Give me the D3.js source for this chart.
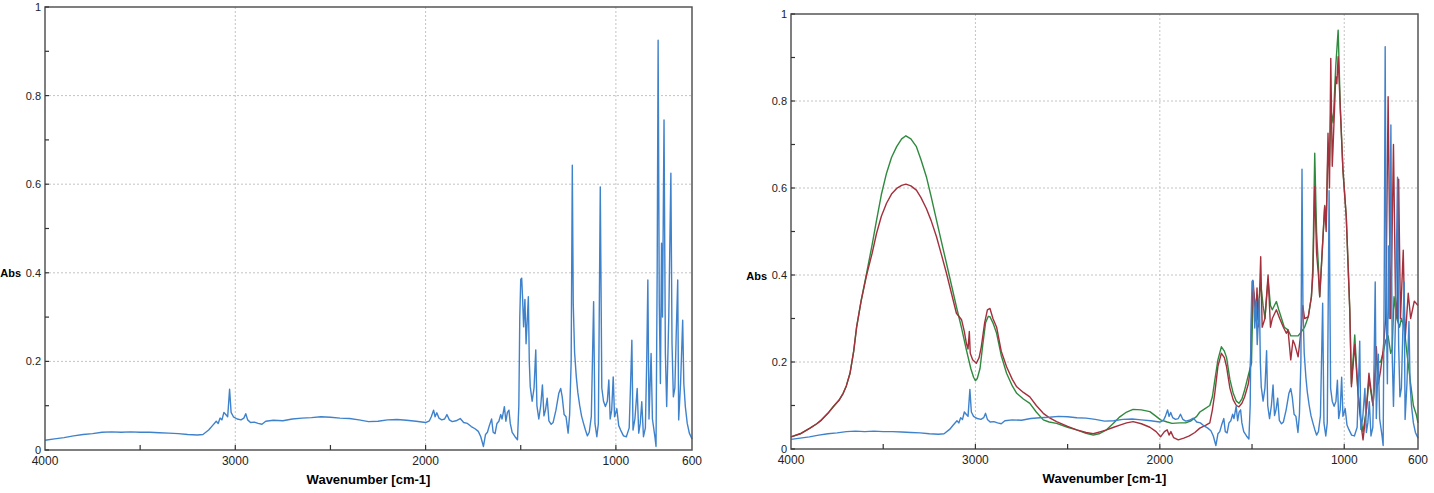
<!DOCTYPE html>
<html>
<head>
<meta charset="utf-8">
<script src="https://cdn.jsdelivr.net/npm/d3@7"></script>
<style>
  body { margin: 0; background: #fff; }
  svg { display: block; font-family: "Liberation Sans", Arial, sans-serif; }
</style>
</head>
<body>
<svg id="chart" width="1434" height="493"></svg>
<script>
// 1: DATA (wavenumber cm-1, absorbance)
const xTickValues = [4000, 3000, 2000, 1000, 600];
const xMinorValues = [3500, 2500, 1500];
const xGridValues = [3000, 2000, 1000];
const yTickValues = [0, 0.2, 0.4, 0.6, 0.8, 1];
const yTickLabels = ["0", "0.2", "0.4", "0.6", "0.8", "1"];
const yMinorValues = [0.1, 0.3, 0.5, 0.7, 0.9];

const blueSpec = [
  [4000,0.022],[3950,0.025],[3900,0.028],[3850,0.032],[3800,0.035],[3750,0.037],[3700,0.040],[3650,0.041],
  [3600,0.040],[3550,0.041],[3500,0.040],[3450,0.040],[3400,0.039],[3350,0.038],[3300,0.037],[3250,0.035],
  [3200,0.034],[3170,0.035],[3140,0.045],[3120,0.055],[3100,0.065],[3090,0.060],[3080,0.072],[3070,0.068],
  [3060,0.085],[3050,0.080],[3040,0.075],[3030,0.137],[3022,0.085],[3010,0.075],[2990,0.070],[2970,0.068],
  [2955,0.072],[2945,0.082],[2935,0.068],[2920,0.062],[2900,0.063],[2880,0.060],[2860,0.058],[2840,0.065],
  [2800,0.067],[2750,0.066],[2700,0.070],[2650,0.072],[2600,0.073],[2550,0.075],[2500,0.074],[2450,0.072],
  [2400,0.071],[2350,0.068],[2300,0.064],[2250,0.065],[2200,0.068],[2150,0.069],[2100,0.067],[2050,0.065],
  [2000,0.062],[1980,0.066],[1970,0.075],[1958,0.090],[1950,0.075],[1941,0.084],[1930,0.072],[1915,0.068],
  [1900,0.070],[1888,0.080],[1875,0.068],[1860,0.064],[1840,0.066],[1818,0.071],[1800,0.062],[1780,0.060],
  [1760,0.053],[1740,0.048],[1723,0.042],[1710,0.030],[1696,0.008],[1685,0.035],[1675,0.040],[1665,0.055],
  [1653,0.070],[1645,0.040],[1635,0.037],[1625,0.060],[1615,0.065],[1605,0.080],[1598,0.070],[1586,0.098],
  [1578,0.065],[1570,0.085],[1562,0.090],[1555,0.060],[1545,0.040],[1530,0.030],[1517,0.023],[1510,0.100],
  [1505,0.300],[1500,0.385],[1495,0.388],[1490,0.340],[1485,0.278],[1478,0.340],[1472,0.240],[1465,0.300],
  [1460,0.346],[1455,0.200],[1450,0.143],[1440,0.110],[1430,0.140],[1421,0.226],[1415,0.100],[1405,0.070],
  [1395,0.100],[1386,0.147],[1378,0.077],[1370,0.090],[1361,0.117],[1352,0.066],[1340,0.058],[1330,0.062],
  [1315,0.090],[1300,0.128],[1290,0.139],[1282,0.120],[1272,0.080],[1262,0.075],[1251,0.038],[1243,0.080],
  [1235,0.200],[1229,0.643],[1224,0.330],[1217,0.220],[1208,0.165],[1200,0.130],[1190,0.100],[1180,0.076],
  [1170,0.060],[1160,0.045],[1150,0.032],[1140,0.040],[1129,0.076],[1117,0.335],[1110,0.060],[1100,0.030],
  [1092,0.060],[1082,0.594],[1074,0.140],[1065,0.110],[1055,0.098],[1045,0.110],[1037,0.158],[1030,0.070],
  [1022,0.090],[1014,0.165],[1007,0.075],[1000,0.085],[995,0.093],[985,0.055],[975,0.045],[960,0.032],
  [945,0.030],[930,0.050],[922,0.160],[916,0.248],[910,0.045],[900,0.070],[888,0.139],[880,0.038],
  [872,0.060],[864,0.109],[855,0.030],[845,0.050],[838,0.200],[832,0.384],[826,0.070],[815,0.218],
  [808,0.070],[795,0.030],[789,0.008],[783,0.400],[778,0.925],[772,0.330],[766,0.150],[760,0.467],
  [755,0.300],[747,0.745],[740,0.220],[733,0.098],[722,0.300],[711,0.625],[705,0.240],[698,0.120],
  [690,0.140],[683,0.260],[675,0.384],[670,0.068],[660,0.150],[649,0.293],[643,0.150],[635,0.098],
  [625,0.060],[614,0.038],[600,0.025]
];

const greenSpec = [
  [4000,0.028],[3950,0.035],[3897,0.048],[3860,0.058],[3834,0.067],[3800,0.082],[3771,0.097],[3740,0.112],
  [3717,0.128],[3700,0.145],[3680,0.174],[3660,0.225],[3644,0.281],[3620,0.340],[3590,0.404],[3560,0.470],
  [3536,0.526],[3510,0.585],[3482,0.634],[3455,0.670],[3427,0.695],[3400,0.713],[3377,0.720],[3350,0.713],
  [3320,0.695],[3295,0.665],[3266,0.626],[3240,0.580],[3211,0.526],[3185,0.478],[3157,0.427],[3130,0.377],
  [3103,0.327],[3075,0.278],[3049,0.228],[3025,0.185],[3010,0.165],[3000,0.157],[2990,0.162],[2975,0.185],
  [2960,0.240],[2945,0.290],[2930,0.305],[2921,0.304],[2905,0.290],[2885,0.266],[2860,0.215],[2831,0.174],
  [2800,0.145],[2776,0.128],[2740,0.115],[2705,0.105],[2670,0.085],[2632,0.067],[2600,0.062],[2560,0.059],
  [2500,0.050],[2451,0.044],[2400,0.036],[2361,0.032],[2330,0.035],[2289,0.044],[2250,0.060],[2217,0.074],
  [2180,0.085],[2145,0.091],[2100,0.090],[2054,0.086],[2020,0.075],[1996,0.067],[1960,0.062],[1934,0.059],
  [1892,0.060],[1860,0.060],[1830,0.065],[1800,0.075],[1783,0.085],[1765,0.090],[1729,0.100],[1715,0.120],
  [1702,0.158],[1685,0.205],[1666,0.235],[1650,0.225],[1638,0.210],[1620,0.160],[1602,0.128],[1585,0.110],
  [1571,0.105],[1555,0.115],[1540,0.136],[1520,0.170],[1503,0.197],[1494,0.366],[1480,0.330],[1473,0.297],
  [1465,0.330],[1453,0.380],[1440,0.330],[1430,0.300],[1413,0.390],[1400,0.330],[1390,0.320],[1368,0.339],
  [1355,0.320],[1340,0.300],[1325,0.280],[1305,0.274],[1290,0.260],[1268,0.260],[1250,0.260],[1232,0.270],
  [1215,0.280],[1195,0.304],[1178,0.350],[1170,0.419],[1160,0.680],[1150,0.500],[1140,0.420],[1133,0.350],
  [1120,0.450],[1106,0.560],[1098,0.520],[1088,0.690],[1080,0.650],[1073,0.780],[1060,0.750],[1046,0.880],
  [1033,0.963],[1021,0.780],[1007,0.641],[989,0.534],[970,0.320],[961,0.150],[943,0.262],[925,0.128],
  [910,0.070],[898,0.040],[880,0.090],[866,0.160],[844,0.100],[826,0.200],[803,0.200],[789,0.220],
  [775,0.250],[762,0.260],[748,0.220],[740,0.230],[730,0.350],[715,0.300],[700,0.280],[690,0.300],
  [675,0.280],[660,0.220],[640,0.150],[625,0.100],[610,0.080],[600,0.060]
];

const redSpec = [
  [4000,0.028],[3950,0.035],[3897,0.048],[3860,0.058],[3834,0.067],[3800,0.082],[3771,0.097],[3740,0.112],
  [3717,0.128],[3700,0.145],[3680,0.174],[3660,0.225],[3644,0.281],[3620,0.340],[3590,0.400],[3560,0.450],
  [3536,0.496],[3510,0.535],[3482,0.565],[3455,0.586],[3427,0.599],[3400,0.606],[3377,0.609],[3350,0.605],
  [3320,0.595],[3295,0.578],[3266,0.553],[3240,0.525],[3211,0.488],[3185,0.448],[3157,0.404],[3130,0.358],
  [3103,0.312],[3075,0.297],[3060,0.270],[3049,0.243],[3040,0.230],[3033,0.270],[3028,0.220],[3015,0.205],
  [2995,0.197],[2980,0.210],[2968,0.235],[2950,0.290],[2935,0.320],[2921,0.323],[2905,0.300],[2885,0.280],
  [2860,0.225],[2831,0.189],[2800,0.160],[2776,0.143],[2740,0.130],[2705,0.120],[2670,0.100],[2632,0.082],
  [2600,0.072],[2560,0.063],[2500,0.052],[2451,0.044],[2400,0.038],[2361,0.035],[2320,0.040],[2289,0.044],
  [2250,0.050],[2217,0.055],[2180,0.060],[2145,0.063],[2100,0.058],[2054,0.050],[2020,0.040],[1996,0.028],
  [1975,0.040],[1960,0.044],[1950,0.032],[1940,0.040],[1925,0.026],[1900,0.021],[1870,0.025],[1840,0.030],
  [1810,0.038],[1783,0.048],[1750,0.055],[1729,0.060],[1715,0.090],[1702,0.128],[1685,0.190],[1666,0.220],
  [1650,0.210],[1638,0.189],[1620,0.140],[1602,0.113],[1585,0.100],[1571,0.097],[1555,0.105],[1540,0.120],
  [1520,0.150],[1510,0.180],[1500,0.330],[1494,0.385],[1480,0.300],[1473,0.370],[1465,0.281],[1453,0.442],
  [1445,0.280],[1430,0.300],[1413,0.400],[1400,0.280],[1390,0.300],[1368,0.320],[1350,0.300],[1330,0.280],
  [1314,0.266],[1305,0.274],[1290,0.205],[1278,0.250],[1268,0.240],[1250,0.212],[1232,0.280],[1225,0.330],
  [1215,0.300],[1195,0.304],[1178,0.350],[1170,0.400],[1160,0.603],[1150,0.450],[1140,0.400],[1133,0.350],
  [1120,0.450],[1106,0.557],[1098,0.500],[1088,0.726],[1080,0.600],[1073,0.898],[1065,0.650],[1060,0.700],
  [1046,0.856],[1040,0.840],[1033,0.902],[1021,0.780],[1007,0.641],[989,0.534],[970,0.320],[961,0.143],
  [943,0.240],[925,0.128],[910,0.060],[898,0.021],[880,0.090],[866,0.174],[844,0.100],[826,0.235],
  [815,0.150],[803,0.180],[789,0.228],[775,0.300],[762,0.810],[749,0.300],[741,0.473],[733,0.700],
  [722,0.350],[712,0.300],[705,0.620],[695,0.300],[680,0.457],[670,0.250],[653,0.358],[640,0.300],
  [620,0.340],[600,0.330]
];

// 2: PANEL GEOMETRY (right panel draws blue last, on top)
const panels = [
  { left: 45, right: 692, top: 7, bottom: 450, series: [blueSpec] },
  { left: 791, right: 1418, top: 14, bottom: 449, series: [greenSpec, redSpec, blueSpec] }
];
const seriesColors = new Map([[blueSpec, "#3f82cc"], [greenSpec, "#2f8a3f"], [redSpec, "#a3303c"]]);

const svg = d3.select("#chart");

panels.forEach(p => {
  const x = d3.scaleLinear().domain([4000, 600]).range([p.left, p.right]);
  const y = d3.scaleLinear().domain([0, 1]).range([p.bottom, p.top]);
  const g = svg.append("g");

  // gridlines
  g.selectAll(".gx").data(xGridValues).enter().append("line")
    .attr("x1", d => x(d)).attr("x2", d => x(d))
    .attr("y1", p.top).attr("y2", p.bottom)
    .attr("stroke", "#c4c4c4").attr("stroke-width", 1).attr("stroke-dasharray", "2,2");
  g.selectAll(".gy").data(yTickValues.filter(d => d > 0 && d < 1)).enter().append("line")
    .attr("x1", p.left).attr("x2", p.right)
    .attr("y1", d => y(d)).attr("y2", d => y(d))
    .attr("stroke", "#c4c4c4").attr("stroke-width", 1).attr("stroke-dasharray", "2,2");

  // spectra
  const line = d3.line().x(d => x(d[0])).y(d => y(d[1]));
  p.series.forEach(s => {
    g.append("path")
      .datum(s)
      .attr("fill", "none")
      .attr("stroke", seriesColors.get(s))
      .attr("stroke-width", 1.4)
      .attr("stroke-linejoin", "round")
      .attr("d", line);
  });

  // frame
  g.append("rect")
    .attr("x", p.left).attr("y", p.top)
    .attr("width", p.right - p.left).attr("height", p.bottom - p.top)
    .attr("fill", "none").attr("stroke", "#555").attr("stroke-width", 1.5);

  // x ticks (inward) and labels
  g.selectAll(".tx").data(xGridValues.concat(xMinorValues)).enter().append("line")
    .attr("x1", d => x(d)).attr("x2", d => x(d))
    .attr("y1", p.bottom).attr("y2", p.bottom - 5)
    .attr("stroke", "#333").attr("stroke-width", 1.2);
  g.selectAll(".lx").data(xTickValues).enter().append("text")
    .attr("x", d => x(d)).attr("y", p.bottom + 15)
    .attr("text-anchor", "middle")
    .style("font-size", "12px").attr("fill", "#222")
    .text(d => d);

  // y ticks and labels
  g.selectAll(".ty").data(yTickValues.concat(yMinorValues)).enter().append("line")
    .attr("x1", p.left).attr("x2", p.left + 4)
    .attr("y1", d => y(d)).attr("y2", d => y(d))
    .attr("stroke", "#333").attr("stroke-width", 1.2);
  g.selectAll(".ly").data(yTickValues).enter().append("text")
    .attr("x", p.left - 4).attr("y", d => y(d) + 4)
    .attr("text-anchor", "end")
    .style("font-size", "11px").attr("fill", "#222")
    .text((d, i) => yTickLabels[i]);

  // axis titles
  g.append("text")
    .attr("x", p.left - 24).attr("y", (p.top + p.bottom) / 2 + 48)
    .attr("text-anchor", "end")
    .style("font-size", "11px").style("font-weight", "bold")
    .text("Abs");
  g.append("text")
    .attr("x", (p.left + p.right) / 2).attr("y", p.bottom + 34)
    .attr("text-anchor", "middle")
    .style("font-size", "13px").style("font-weight", "bold")
    .text("Wavenumber [cm-1]");
});
</script>
</body>
</html>
